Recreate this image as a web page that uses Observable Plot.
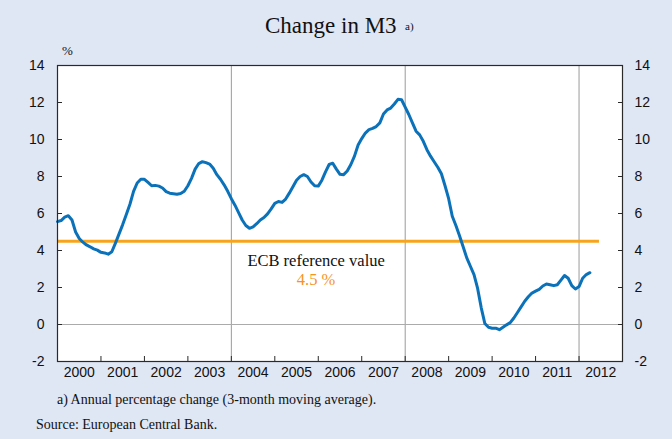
<!DOCTYPE html>
<html><head><meta charset="utf-8">
<script src="https://cdn.jsdelivr.net/npm/d3@7"></script>
<script src="https://cdn.jsdelivr.net/npm/@observablehq/plot@0.6"></script>
<style>
html,body{margin:0;padding:0;background:#dfe6f4;}
#wrap{position:relative;width:672px;height:439px;background:#dfe6f4;overflow:hidden}
#chart{position:absolute;left:0;top:0}
.t{position:absolute;font-family:"Liberation Serif","Times New Roman",serif;color:#111;white-space:nowrap;line-height:1}
</style></head><body><div id="wrap">
<div id="chart"></div>
<div class="t" style="left:265px;top:14px;font-size:23px">Change in M3</div>
<div class="t" style="left:405px;top:21px;font-size:11px">a)</div>
<div class="t" style="left:62px;top:44px;font-size:13px">%</div>
<div class="t" style="left:57px;top:393px;font-size:14px">a) Annual percentage change (3-month moving average).</div>
<div class="t" style="left:36px;top:418px;font-size:14px">Source: European Central Bank.</div>
</div>
<script>
// Monthly data, Jan 2000 – Apr 2012 (annual % change of M3, 3-month moving average)
const startYear = 2000;
const m3 = [
  5.56, 5.62, 5.80, 5.88, 5.65, 5.00, 4.65, 4.45, 4.30, 4.20, 4.09, 4.02,
  3.90, 3.87, 3.80, 3.93, 4.40, 4.90, 5.40, 5.95, 6.50, 7.20, 7.65, 7.85,
  7.85, 7.68, 7.50, 7.52, 7.48, 7.38, 7.18, 7.10, 7.07, 7.04, 7.08, 7.20,
  7.50, 7.90, 8.40, 8.70, 8.80, 8.75, 8.67, 8.45, 8.10, 7.85, 7.55, 7.20,
  6.80, 6.45, 6.05, 5.65, 5.35, 5.20, 5.28, 5.45, 5.65, 5.78, 5.98, 6.25,
  6.55, 6.65, 6.60, 6.78, 7.10, 7.45, 7.80, 8.00, 8.10, 8.00, 7.70, 7.50,
  7.48, 7.80, 8.25, 8.65, 8.72, 8.40, 8.12, 8.10, 8.30, 8.65, 9.10, 9.70,
  10.05, 10.35, 10.53, 10.60, 10.70, 10.90, 11.38, 11.60, 11.70, 11.92, 12.17, 12.15,
  11.75, 11.35, 10.90, 10.45, 10.25, 9.90, 9.45, 9.10, 8.80, 8.50, 8.15, 7.50,
  6.80, 5.85, 5.35, 4.80, 4.20, 3.60, 3.15, 2.70, 1.95, 0.90, 0.05, -0.15,
  -0.20, -0.20, -0.28, -0.15, -0.02, 0.10, 0.35, 0.65, 0.95, 1.26, 1.50, 1.70,
  1.80, 1.90, 2.08, 2.19, 2.15, 2.10, 2.15, 2.40, 2.65, 2.50, 2.10, 1.92,
  2.05, 2.50, 2.70, 2.80
];
const yearLabels = ["2000","2001","2002","2003","2004","2005","2006","2007","2008","2009","2010","2011","2012"];
const yearTicks = [2000,2001,2002,2003,2004,2005,2006,2007,2008,2009,2010,2011,2012,2013];
const gridYears = [2004, 2008, 2012];
const yTicks = [-2, 0, 2, 4, 6, 8, 10, 12, 14];
const refValue = 4.5;
const refEnd = 2012.47;
const refLabel = "ECB reference value";
const refValueLabel = "4.5 %";
const labelPos = [2006];

const data = m3.map((v, i) => ({t: startYear + i / 12, v}));
const blue = "#0b72ba";
const orange = "#f7a41d";
const sans = "'Liberation Sans', Arial, sans-serif";

const chart = Plot.plot({
  width: 672, height: 439,
  marginLeft: 57, marginRight: 50, marginTop: 65, marginBottom: 78,
  style: {background: "transparent", fontFamily: sans, fontSize: "14px", color: "#111"},
  x: {domain: [2000, 2013]},
  y: {domain: [-2, 14]},
  marks: [
    Plot.frame({fill: "white", stroke: "none"}),
    Plot.ruleX(gridYears, {stroke: "#9a9a9a", strokeWidth: 1}),
    Plot.ruleY([0], {stroke: "#ababab", strokeWidth: 1}),
    Plot.ruleY([refValue], {x1: startYear, x2: refEnd, stroke: orange, strokeWidth: 3}),
    Plot.line(data, {x: "t", y: "v", stroke: blue, strokeWidth: 3, curve: "linear"}),
    Plot.text(labelPos, {x: d => d - 0.05, y: refValue, text: () => refLabel, dy: 19, fontFamily: "'Liberation Serif', serif", fontSize: 16.5, fill: "#111"}),
    Plot.text(labelPos, {x: d => d - 0.05, y: refValue, text: () => refValueLabel, dy: 38, fontFamily: "'Liberation Serif', serif", fontSize: 16.5, fill: "#f7941d"}),
    Plot.frame({stroke: "#2a2a2a", strokeWidth: 1.2}),
    Plot.axisY(yTicks, {anchor: "left", tickSize: -5, tickFormat: () => "", label: null, stroke: "#2a2a2a"}),
    Plot.axisY(yTicks, {anchor: "right", tickSize: -5, tickFormat: () => "", label: null, stroke: "#2a2a2a"}),
    Plot.axisY(yTicks, {anchor: "left", tickSize: 0, tickPadding: 13, tickFormat: d => String(d), label: null, fill: "#111", fontSize: 14, fontFamily: sans}),
    Plot.axisY(yTicks, {anchor: "right", tickSize: 0, tickPadding: 12, tickFormat: d => String(d), label: null, fill: "#111", fontSize: 14, fontFamily: sans}),
    Plot.axisX(yearTicks, {anchor: "bottom", tickSize: -5, tickFormat: () => "", label: null, stroke: "#2a2a2a"}),
    Plot.text(yearLabels, {x: d => +d + 0.5, frameAnchor: "bottom", dy: 15, fill: "#111", fontSize: 14, fontFamily: sans})
  ]
});
document.getElementById("chart").appendChild(chart);
</script>
</body></html>
